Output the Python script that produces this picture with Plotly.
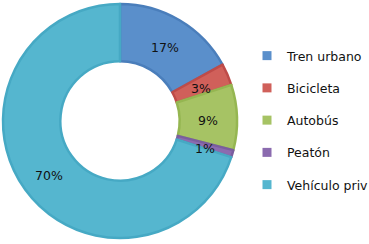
import math
import plotly.graph_objects as go

labels = ["Tren urbano", "Bicicleta", "Autobús", "Peatón", "Vehículo priv"]
values = [17, 3, 9, 1, 70]
fill_colors = ["#5A8FCB", "#D0605A", "#A6C364", "#8B6BAF", "#55B6CF"]
edge_colors = ["#4A7EBB", "#BE4B48", "#95B651", "#7A5E9E", "#46A9C4"]

W, H = 369, 244
HOLE = 0.51
dom_x = [3 / W, 237 / W]
dom_y = [1 - 238 / H, 1 - 4 / H]

fig = go.Figure()
fig.add_trace(go.Pie(
    labels=labels, values=values, hole=HOLE, sort=False, direction="clockwise",
    rotation=0,
    marker=dict(colors=fill_colors, line=dict(color=edge_colors, width=2.5)),
    textinfo="none",
    domain=dict(x=dom_x, y=dom_y),
    showlegend=False, hoverinfo="label+percent",
))

# percentage labels at the middle of each ring segment
cx = (dom_x[0] + dom_x[1]) / 2 * W
cy = (1 - (dom_y[0] + dom_y[1]) / 2) * H
radius = min((dom_x[1] - dom_x[0]) * W, (dom_y[1] - dom_y[0]) * H) / 2
r_mid = radius * (1 + HOLE) / 2
total = sum(values)
cum = 0
for v in values:
    ang = 2 * math.pi * (cum + v / 2) / total
    cum += v
    px = cx + r_mid * math.sin(ang)
    py = cy - r_mid * math.cos(ang)
    fig.add_annotation(
        x=px / W, y=1 - (py + 2.5) / H, xref="paper", yref="paper",
        xanchor="center", yanchor="middle",
        text=f"{round(100 * v / total)}%", showarrow=False,
        font=dict(family="DejaVu Sans", size=12.5, color="#111111"),
    )

# legend entries
for lab, col in zip(labels, fill_colors):
    fig.add_trace(go.Scatter(
        x=[None], y=[None], mode="markers", name=lab, legendgroup=lab,
        marker=dict(symbol="square", size=9, color=col),
    ))

fig.update_layout(
    width=W, height=H,
    margin=dict(l=0, r=0, t=0, b=0, autoexpand=False),
    paper_bgcolor="white", plot_bgcolor="white",
    xaxis=dict(visible=False), yaxis=dict(visible=False),
    legend=dict(x=247 / W, y=1 - 41 / H, xanchor="left", yanchor="top",
                tracegroupgap=13, itemwidth=30,
                font=dict(family="DejaVu Sans", size=12.5, color="#111111"),
                bgcolor="rgba(0,0,0,0)"),
)
fig.write_html("out.html", config={"displayModeBar": False},
               post_script="document.body.style.margin='0';")
